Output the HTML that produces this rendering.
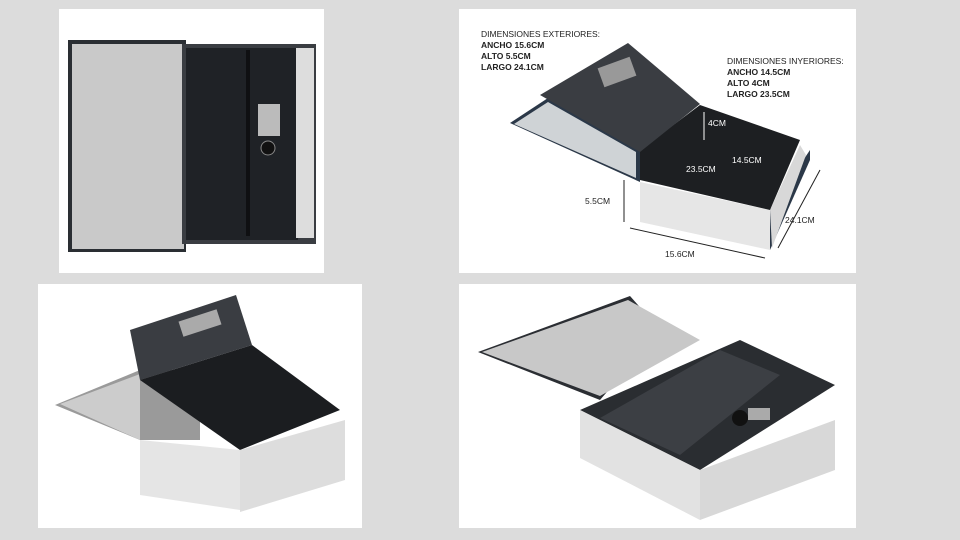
<!DOCTYPE html>
<html><head><meta charset="utf-8"><style>
body{margin:0;width:960px;height:540px;background:#dcdcdc;overflow:hidden;font-family:"Liberation Sans",sans-serif}
</style></head><body>
<svg width="960" height="540" viewBox="0 0 960 540" xmlns="http://www.w3.org/2000/svg" style="position:absolute;left:0;top:0">
<rect width="960" height="540" fill="#dcdcdc"/>
<rect x="59" y="9" width="265" height="264" fill="#fff"/>
<rect x="459" y="9" width="397" height="264" fill="#fff"/>
<rect x="38" y="284" width="324" height="244" fill="#fff"/>
<rect x="459" y="284" width="397" height="244" fill="#fff"/>

<!-- TL book -->
<rect x="68" y="40" width="118" height="212" fill="#2a2e33"/>
<rect x="72" y="44" width="112" height="205" fill="#c9c9c9"/>
<rect x="182" y="44" width="134" height="200" fill="#3a3d42"/>
<rect x="186" y="48" width="112" height="192" fill="#1f2226"/>
<rect x="246" y="50" width="4" height="186" fill="#0f1012"/>
<rect x="296" y="48" width="18" height="190" fill="#ddd"/>
<rect x="258" y="104" width="22" height="32" fill="#bbb"/>
<circle cx="268" cy="148" r="7" fill="#111" stroke="#888"/>

<!-- TR box -->
<polygon points="510,123 548,98 640,150 640,182" fill="#2b3848"/>
<polygon points="514,124 548,102 636,152 636,178" fill="#cfd3d6"/>
<polygon points="640,182 770,210 770,250 640,222" fill="#e6e6e6"/>
<polygon points="770,210 810,150 810,160 770,250" fill="#2b3848"/>
<polygon points="770,210 800,145 806,155 772,248" fill="#d8d8d8"/>
<polygon points="640,150 700,105 800,140 770,210 640,180" fill="#1d1f22"/>
<polygon points="540,95 628,43 700,104 640,152" fill="#3a3d42"/>
<rect x="600" y="62" width="34" height="20" fill="#999" transform="rotate(-20 617 72)"/>
<g font-size="8.5" fill="#222">
<text x="481" y="37">DIMENSIONES EXTERIORES:</text>
<text x="481" y="48" font-weight="bold">ANCHO 15.6CM</text>
<text x="481" y="59" font-weight="bold">ALTO 5.5CM</text>
<text x="481" y="70" font-weight="bold">LARGO 24.1CM</text>
<text x="727" y="64">DIMENSIONES INYERIORES:</text>
<text x="727" y="75" font-weight="bold">ANCHO 14.5CM</text>
<text x="727" y="86" font-weight="bold">ALTO 4CM</text>
<text x="727" y="97" font-weight="bold">LARGO 23.5CM</text>
<text x="708" y="126" fill="#fff">4CM</text>
<text x="732" y="163" fill="#fff">14.5CM</text>
<text x="686" y="172" fill="#fff">23.5CM</text>
<text x="585" y="204">5.5CM</text>
<text x="785" y="223">24.1CM</text>
<text x="665" y="257">15.6CM</text>
</g>
<g stroke="#222" stroke-width="1" fill="none">
<line x1="624" y1="180" x2="624" y2="222"/>
<line x1="630" y1="228" x2="765" y2="258"/>
<line x1="778" y1="248" x2="820" y2="170"/>
<line x1="704" y1="112" x2="704" y2="140" stroke="#fff"/>
</g>

<!-- BL box -->
<polygon points="55,405 140,370 200,370 200,440 140,440" fill="#9a9a9a"/>
<polygon points="60,404 140,374 140,440" fill="#ccc"/>
<polygon points="130,330 236,295 252,345 140,380" fill="#3a3d42"/>
<rect x="180" y="315" width="40" height="16" fill="#aaa" transform="rotate(-18 200 323)"/>
<polygon points="140,380 252,345 340,410 240,450" fill="#1b1d20"/>
<polygon points="140,440 240,450 240,510 140,495" fill="#e5e5e5"/>
<polygon points="240,450 345,420 345,480 240,512" fill="#ddd"/>

<!-- BR box -->
<polygon points="478,352 630,296 660,330 600,400" fill="#2b2e33"/>
<polygon points="482,352 628,300 700,340 600,396" fill="#c8c8c8"/>
<polygon points="580,410 740,340 835,385 700,470" fill="#2a2d31"/>
<polygon points="600,418 720,350 780,375 680,455" fill="#3c3f44"/>
<circle cx="740" cy="418" r="8" fill="#111"/>
<rect x="748" y="408" width="22" height="12" fill="#aaa"/>
<polygon points="580,410 700,470 700,520 580,458" fill="#e2e2e2"/>
<polygon points="700,470 835,420 835,470 700,520" fill="#d8d8d8"/>
</svg>
</body></html>
